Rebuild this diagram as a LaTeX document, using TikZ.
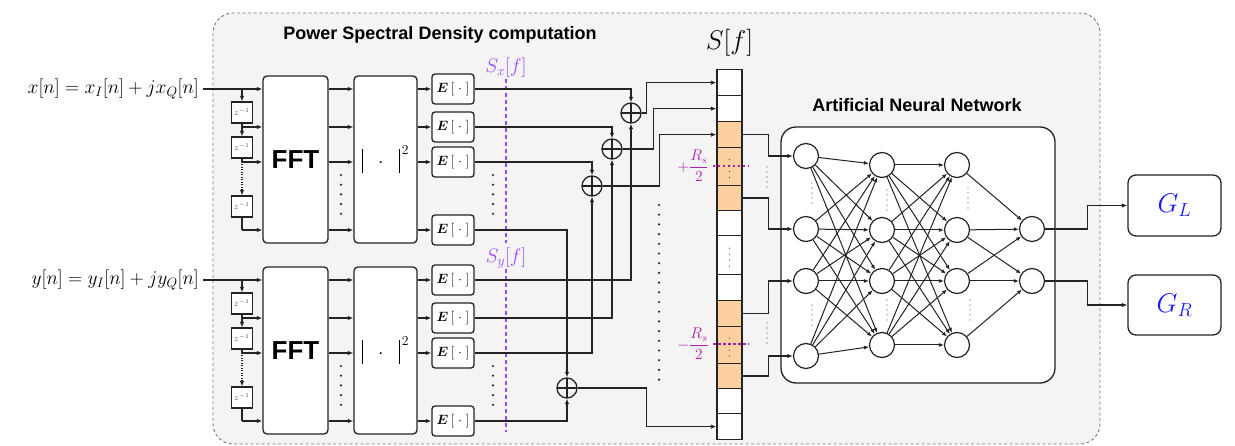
\RequirePackage{fix-cm}
\documentclass[tikz,border=0pt]{standalone}
\usepackage{amsmath}
\usepackage{bm}
\usepackage{fontspec}
\newfontfamily\helv{Liberation Sans}
\usetikzlibrary{arrows.meta}
\definecolor{bggray}{RGB}{244,244,244}
\definecolor{bgline}{RGB}{120,120,120}
\definecolor{psdviolet}{RGB}{155,70,255}
\definecolor{rsmag}{RGB}{175,30,175}
\definecolor{cellorange}{RGB}{253,208,160}
\definecolor{gblue}{RGB}{25,25,255}
\definecolor{ln}{RGB}{35,35,35}
\newcommand\fsTitle{\helv\bfseries\fontsize{18}{21}\selectfont}
\newcommand\fsFFT{\helv\bfseries\fontsize{26}{30}\selectfont}
\newcommand\fsIn{\fontsize{19.5}{23}\selectfont}
\newcommand\fsS{\fontsize{27}{31}\selectfont}
\newcommand\fsG{\fontsize{27}{31}\selectfont}
\newcommand\fsE{\fontsize{13.5}{15}\selectfont}
\newcommand\fsZ{\fontsize{8.5}{9}\selectfont}
\newcommand\fsRs{\fontsize{15.5}{18}\selectfont}
\newcommand\absbar{\rule[-6pt]{1pt}{24pt}}
\begin{document}
\begin{tikzpicture}[x=1pt,y=-1pt,
  wire/.style={draw=ln, line width=1.3pt},
  arr/.style={wire, -{Latex[length=5.5pt,width=4.5pt]}},
  nnarr/.style={draw=ln, line width=1pt, -{Latex[length=5pt,width=4pt]}},
  blk/.style={draw=ln, line width=1.3pt, fill=white, rounded corners=4pt, inner sep=0pt},
  ebox/.style={blk, rounded corners=3pt, minimum width=42pt, minimum height=30pt, font=\fsE},
  zbox/.style={draw=ln, line width=1.1pt, fill=white, minimum size=21pt, inner sep=0pt, font=\fsZ, text=black!70},
  adder/.style={circle, draw=ln, line width=1.3pt, minimum size=20pt, inner sep=0pt,
    path picture={\draw[ln, line width=1.1pt] (path picture bounding box.north) -- (path picture bounding box.south)
      (path picture bounding box.west) -- (path picture bounding box.east);}},
  cell/.style={draw=ln, line width=1.3pt, minimum width=25pt, inner sep=0pt, anchor=north},
  neuron/.style={circle, draw=ln, line width=1.2pt, fill=white, minimum size=25pt, inner sep=0pt},
  bigdots/.style={draw=ln, line width=2.4pt, line cap=round, dash pattern=on 0pt off 9.7pt},
  smalldots/.style={draw=ln, line width=1.3pt, line cap=round, dash pattern=on 0pt off 5pt},
  lbl/.style={font=\fsIn, inner sep=4pt}
]
\useasboundingbox (0,0) rectangle (1235,446);
% background
\path[fill=bggray, draw=bgline, line width=0.9pt, dash pattern=on 3pt off 2.5pt, rounded corners=20pt]
  (213,13) rectangle (1100,444);
\node[font=\fsTitle] (psdtitle) at (440,35) {Power Spectral Density computation};

% inputs
\node[lbl, anchor=east] (xin) at (203,89) {$x[n] = x_I[n] + jx_Q[n]$};
\node[lbl, anchor=east] (yin) at (203,280) {$y[n] = y_I[n] + jy_Q[n]$};

% FFT and |.|^2 blocks
\node[blk, minimum width=65pt, minimum height=167pt, font=\fsFFT] (fft1) at (295.5,159.5) {FFT};
\node[blk, minimum width=65pt, minimum height=167pt, font=\fsFFT] (fft2) at (295.5,350.5) {FFT};
\node[blk, minimum width=63pt, minimum height=167pt, font=\fsIn] (abs1) at (385.5,159.5) {$\absbar\;\;\cdot\;\;\absbar^{\,2}$};
\node[blk, minimum width=63pt, minimum height=167pt, font=\fsIn] (abs2) at (385.5,350.5) {$\absbar\;\;\cdot\;\;\absbar^{\,2}$};

% E boxes
\foreach \k/\y in {1/89,2/127,3/162,4/230}{
  \node[ebox] (e1\k) at (453,\y) {$\bm{E}\,[\;\cdot\;]$};
}
\foreach \k/\y in {1/280,2/318,3/353,4/421}{
  \node[ebox] (e2\k) at (453,\y) {$\bm{E}\,[\;\cdot\;]$};
}

% delay chains
\foreach \s/\o in {1/0,2/191}{
  \node[zbox] (z\s1) at (242,112.5+\o) {$z^{-1}$};
  \node[zbox] (z\s2) at (242,147.5+\o) {$z^{-1}$};
  \node[zbox] (z\s3) at (242,206.5+\o) {$z^{-1}$};
  \coordinate (b\s0) at (242,89+\o);
  \coordinate (b\s1) at (242,127+\o);
  \coordinate (b\s2) at (242,162+\o);
  \coordinate (b\s3) at (242,230+\o);
  \draw[arr] (b\s0) -- (z\s1.north);
  \draw[arr] (z\s1.south) -- (z\s2.north);
  \draw[arr] (b\s1) -- (fft\s.west |- b\s1);
  \draw[wire] (z\s2.south) -- (b\s2);
  \draw[arr] (b\s2) -- (fft\s.west |- b\s2);
  \draw[draw=ln, line width=1.2pt, dash pattern=on 1pt off 1.5pt, -{Latex[length=5.5pt,width=4.5pt]}] (b\s2) -- (z\s3.north);
  \draw[wire] (z\s3.south) -- (b\s3);
  \draw[arr] (b\s3) -- (fft\s.west |- b\s3);
  \foreach \k in {1,2,3,4}{
    \draw[arr] (fft\s.east |- e\s\k) -- (abs\s.west |- e\s\k);
    \draw[arr] (abs\s.east |- e\s\k) -- (e\s\k.west);
  }
  \coordinate (fd\s a) at (341,175+\o);
  \coordinate (fd\s b) at (341,215+\o);
  \draw[bigdots] (fd\s a) -- (fd\s b);
  \coordinate (ed\s a) at (493,175+\o);
  \coordinate (ed\s b) at (493,215+\o);
  \draw[bigdots] (ed\s a) -- (ed\s b);
}
\draw[arr] (xin.east) -- (fft1.west |- xin.east);
\draw[arr] (yin.east) -- (fft2.west |- yin.east);

% S_x, S_y labels
\node[font=\fsIn, text=psdviolet, inner sep=1pt] (sx) at (506,68) {$S_x[f]$};
\node[font=\fsIn, text=psdviolet, inner sep=1pt] (sy) at (506,258) {$S_y[f]$};
\coordinate (sxend) at (506,243);
\coordinate (syend) at (506,432);
\draw[psdviolet, line width=1.3pt, dash pattern=on 4pt off 3pt] (sx.south) -- (sxend);
\draw[psdviolet, line width=1.3pt, dash pattern=on 4pt off 3pt] (sy.south) -- (syend);

% adders
\node[adder] (a1) at (631,113) {};
\node[adder] (a2) at (612,149) {};
\node[adder] (a3) at (592,186) {};
\node[adder] (a4) at (567,388) {};
\foreach \k in {1,2,3,4}{
  \draw[arr] (e1\k.east) -| (a\k.north);
  \draw[arr] (e2\k.east) -| (a\k.south);
}

% S[f] column
\foreach \n/\t/\h/\f in {1/69/26/white, 2/95/26/white, 3/121/26/cellorange, 4/147/38/cellorange,
  5/185/25/cellorange, 6/210/25/white, 7/235/39/white, 8/274/26/white, 9/300/26/cellorange,
  10/326/37/cellorange, 11/363/25/cellorange, 12/388/25/white, 13/413/26/white}{
  \node[cell, fill=\f, minimum height=\h pt] (c\n) at (729.5,\t) {};
}
\node[font=\fsS] (sf) at (729.5,43) {$S[f]$};

% adder outputs
\draw[arr] (a1.east) -- ++(5,0) |- (c1.west);
\draw[arr] (a2.east) -- ++(31,0) |- (c2.west);
\draw[arr] (a3.east) -- ++(57,0) |- (c3.west);
\draw[arr] (a4.east) -- ++(69,0) |- (c13.west);
\coordinate (ld1) at (659,205);
\coordinate (ld2) at (659,388);
\draw[bigdots] (ld1) -- (ld2);

% R_s labels
\node[font=\fsRs, text=rsmag, inner sep=1pt] (rp) at (693,166) {$+\dfrac{R_s}{2}$};
\node[font=\fsRs, text=rsmag, inner sep=1pt] (rm) at (693,344) {$-\dfrac{R_s}{2}$};
\coordinate (rpe) at (749,166);
\coordinate (rme) at (749,344);
\draw[draw=rsmag, line width=1.2pt, dash pattern=on 2.5pt off 2.5pt] (rp.east) ++(3,0) -- (rpe);
\draw[draw=rsmag, line width=1.2pt, dash pattern=on 2.5pt off 2.5pt] (rm.east) ++(3,0) -- (rme);
\foreach \n in {4,7,10}{
  \draw[smalldots, line width=1.2pt, dash pattern=on 0pt off 6pt] ([yshift=-11pt]c\n.center) -- ([yshift=11pt]c\n.center);
}

% Neural network
\node[font=\fsTitle] (anntitle) at (917,105) {Artificial Neural Network};
\node[draw=ln, line width=1.3pt, fill=white, rounded corners=15pt, minimum width=274pt, minimum height=256pt] (nnbox) at (918,255) {};
\foreach \k/\y in {1/156,2/229,3/281,4/356}{ \node[neuron] (n1\k) at (806,\y) {}; }
\foreach \k/\y in {1/165,2/230,3/281,4/345}{ \node[neuron] (n2\k) at (882,\y) {}; }
\foreach \k/\y in {1/165,2/230,3/281,4/345}{ \node[neuron] (n3\k) at (957,\y) {}; }
\foreach \k/\y in {1/229,2/281}{ \node[neuron] (n4\k) at (1032,\y) {}; }
\foreach \i in {1,2,3,4}{
  \foreach \j in {1,2,3,4}{
    \draw[nnarr] (n1\i) -- (n2\j);
    \draw[nnarr] (n2\i) -- (n3\j);
  }
}
\foreach \i/\j in {1/1,2/1,2/2,3/1,3/2,4/2}{ \draw[nnarr] (n3\i) -- (n4\j); }
% layer dots
\foreach \x/\a/\b in {812/183/205, 887/190/210, 968/188/210, 812/305/327, 887/300/323, 970/300/322, 767/167/187, 767/323/345}{
  \coordinate (dA) at (\x,\a);
  \coordinate (dB) at (\x,\b);
  \draw[smalldots, draw=black!70] (dA) -- (dB);
}

% column -> NN
\draw[arr] (c3.east) -- ++(26,0) |- (n11.west);
\draw[arr] (c5.east) -- ++(26,0) |- (n12.west);
\draw[arr] (c9.east) -- ++(26,0) |- (n13.west);
\draw[arr] (c11.east) -- ++(26,0) |- (n14.west);

% outputs
\node[blk, rounded corners=8pt, minimum width=93pt, minimum height=61pt, font=\fsG, text=gblue] (gl) at (1174.5,205.5) {$G_L$};
\node[blk, rounded corners=8pt, minimum width=93pt, minimum height=60pt, font=\fsG, text=gblue] (gr) at (1174.5,305) {$G_R$};
\draw[arr] (n41.east) -- ++(42.5,0) |- (gl.west);
\draw[arr] (n42.east) -- ++(42.5,0) |- (gr.west);
\end{tikzpicture}
\end{document}
